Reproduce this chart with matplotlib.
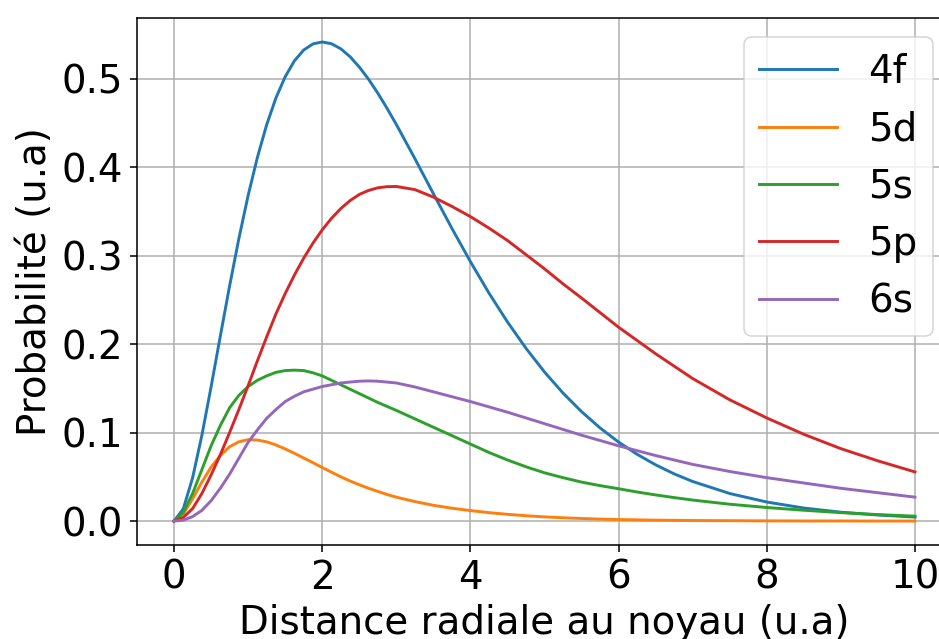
import matplotlib
matplotlib.use("Agg")
import matplotlib.pyplot as plt

# Radial distance samples (atomic units): dense near the nucleus, coarser in the tail
r_inner = [0.0, 0.125, 0.25, 0.375, 0.5, 0.625, 0.75, 0.875, 1.0, 1.125, 1.25, 1.375,
           1.5, 1.625, 1.75, 1.875, 2.0, 2.125, 2.25, 2.375, 2.5, 2.625, 2.75, 2.875, 3.0]
r_mid = [3.25, 3.5, 3.75, 4.0, 4.25, 4.5, 4.75, 5.0, 5.25, 5.5, 5.75, 6.0, 6.25, 6.5, 6.75, 7.0]
r_outer = [7.5, 8.0, 8.5, 9.0, 9.5, 10.0]
r = r_inner + r_mid + r_outer

# Radial probability of each orbital
p_4f = [0.0, 0.0138, 0.0487, 0.0966, 0.1516, 0.2091, 0.2657, 0.3192, 0.3679, 0.4109, 0.4477, 0.4780,
        0.5020, 0.5200, 0.5322, 0.5391, 0.5413, 0.5393, 0.5336, 0.5247, 0.5130, 0.4992, 0.4835, 0.4663, 0.4481,
        0.4096, 0.3699, 0.3307, 0.2931, 0.2576, 0.2250, 0.1952, 0.1684, 0.1446, 0.1236, 0.1052, 0.0892,
        0.0754, 0.0635, 0.0533, 0.0447,
        0.0311, 0.0215, 0.0147, 0.0100, 0.0068, 0.0045]
p_5d = [0.0, 0.008, 0.025, 0.044, 0.061, 0.074, 0.084, 0.0895, 0.092, 0.0915, 0.0895, 0.086,
        0.0815, 0.0765, 0.0712, 0.066, 0.0605, 0.0552, 0.050, 0.0453, 0.041, 0.037, 0.0335, 0.030, 0.027,
        0.022, 0.0178, 0.0145, 0.0118, 0.0095, 0.0076, 0.006, 0.0047, 0.0037, 0.0029, 0.0022, 0.0017,
        0.0013, 0.001, 0.0008, 0.0006,
        0.0004, 0.0002, 0.0001, 0.0001, 0.0, 0.0]
p_5s = [0.0, 0.010, 0.031, 0.058, 0.085, 0.108, 0.128, 0.142, 0.152, 0.159, 0.164, 0.168,
        0.170, 0.1705, 0.170, 0.1675, 0.164, 0.159, 0.154, 0.149, 0.144, 0.139, 0.134, 0.1295, 0.125,
        0.1155, 0.106, 0.0965, 0.087, 0.0775, 0.069, 0.0613, 0.0545, 0.049, 0.044, 0.040, 0.0365,
        0.0328, 0.0295, 0.0265, 0.0237,
        0.019, 0.0153, 0.0122, 0.0095, 0.0073, 0.0055]
p_5p = [0.0, 0.004, 0.014, 0.031, 0.052, 0.075, 0.100, 0.126, 0.153, 0.181, 0.208, 0.234,
        0.257, 0.278, 0.297, 0.314, 0.329, 0.342, 0.353, 0.362, 0.369, 0.3735, 0.3765, 0.3778, 0.378,
        0.3745, 0.366, 0.3555, 0.344, 0.331, 0.317, 0.301, 0.285, 0.268, 0.252, 0.2355, 0.219,
        0.204, 0.189, 0.175, 0.161,
        0.137, 0.1165, 0.098, 0.0818, 0.068, 0.0555]
p_6s = [0.0, 0.001, 0.005, 0.012, 0.023, 0.037, 0.053, 0.071, 0.089, 0.103, 0.116, 0.126,
        0.135, 0.141, 0.146, 0.149, 0.152, 0.154, 0.156, 0.157, 0.158, 0.1583, 0.158, 0.157, 0.156,
        0.1515, 0.146, 0.1405, 0.135, 0.129, 0.123, 0.1165, 0.110, 0.1035, 0.097, 0.091, 0.085,
        0.0795, 0.074, 0.069, 0.064,
        0.056, 0.049, 0.043, 0.037, 0.032, 0.027]

labels = ["4f", "5d", "5s", "5p", "6s"]
series = [p_4f, p_5d, p_5s, p_5p, p_6s]

fs = 27.9
lw = 2.1
thin = 1.12

fig = plt.figure(figsize=(9.39, 6.39), dpi=100)
ax = fig.add_axes([137 / 939, (639 - 545) / 639, 815 / 939, 527 / 639])

for lab, vals in zip(labels, series):
    ax.plot(r, vals, label=lab, linewidth=lw)

ax.grid(True, linewidth=thin, color="#b0b0b0")
ax.set_axisbelow(True)
for sp in ax.spines.values():
    sp.set_linewidth(thin)
ax.tick_params(labelsize=fs, length=4.9, width=thin, pad=4.9)

ax.set_xlabel("Distance radiale au noyau (u.a)", fontsize=fs, labelpad=5.6)
ax.set_ylabel("Probabilité (u.a)", fontsize=fs, labelpad=5.6)

leg = ax.legend(loc="upper right", fontsize=fs)
leg.get_frame().set_linewidth(thin)

fig.savefig("out.png", dpi=100)
